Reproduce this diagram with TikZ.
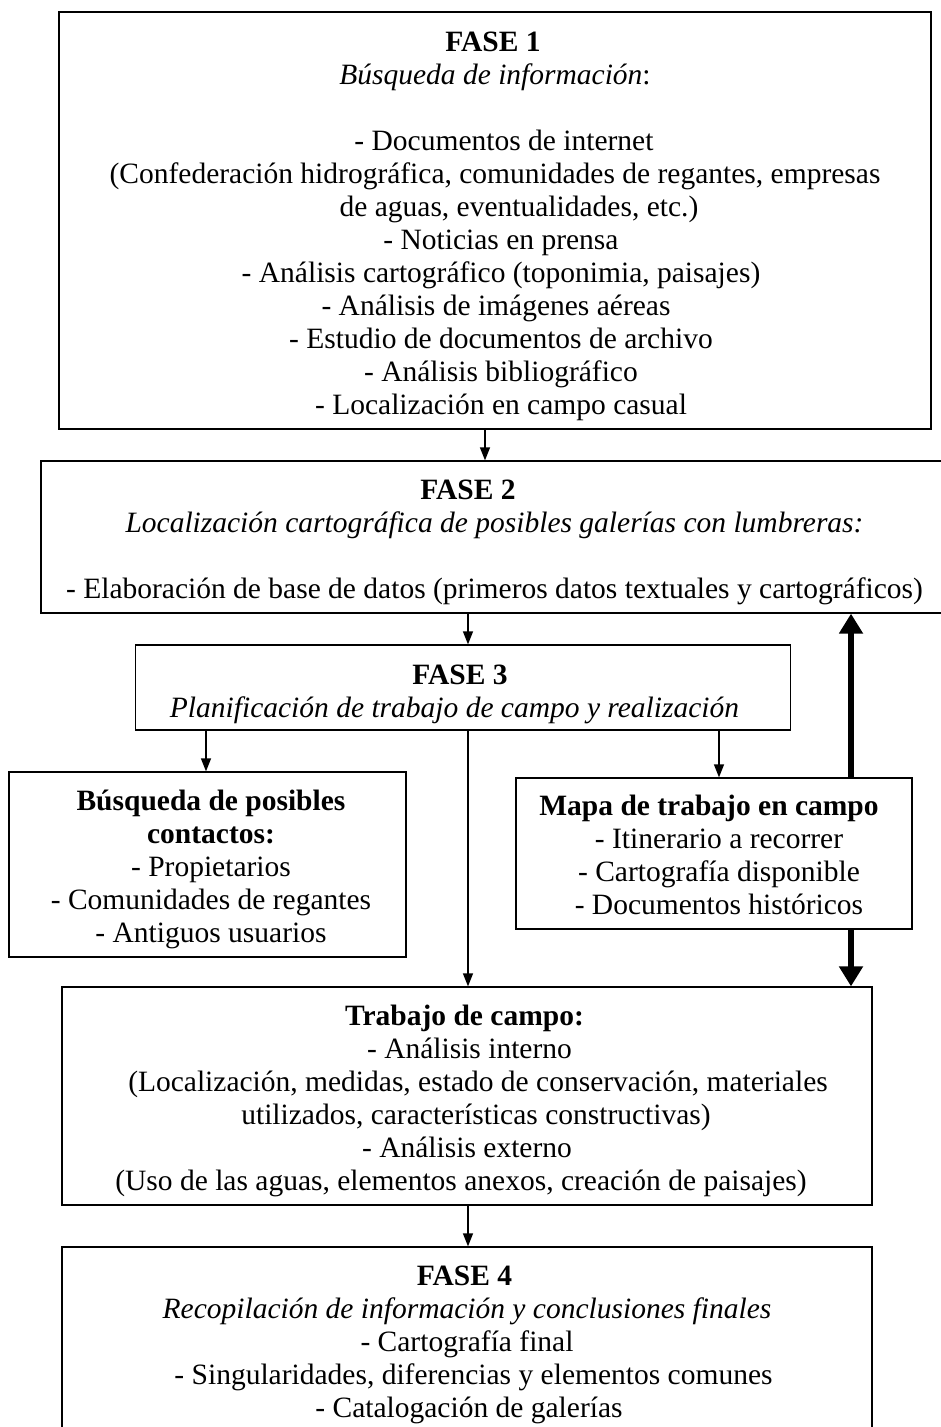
\documentclass[tikz,border=0pt]{standalone}
\usepackage{fontspec}
\setmainfont{Liberation Serif}
\usetikzlibrary{arrows.meta}
\newcommand\dgfont{\fontsize{29.5}{33}\selectfont}
\newcommand\hs[1]{\hspace*{#1pt}}
\newcommand\tpt[1]{\rule{0pt}{#1pt}}
\begin{document}
\begin{tikzpicture}[x=1pt,y=-1pt,
  box/.style={draw,line width=1.3pt,inner sep=0pt,align=center,font=\dgfont},
  smallarrow/.style={line width=1.3pt,-{Triangle[length=13pt,width=10pt]}},
  bigarrow/.style={line width=6.5pt,-{Triangle[length=20pt,width=23pt]}}]
\useasboundingbox (0,0) rectangle (940,1427);
\fill[white] (0,0) rectangle (940,1427);
% columns for connectors
\coordinate (c1) at (485,0);
\coordinate (c2) at (468,0);
\coordinate (c3) at (206,0);
\coordinate (c4) at (719,0);
\coordinate (c5) at (851,0);
% boxes
\node[box,minimum width=872pt,minimum height=417pt] (f1) at (495,220.5) {%
\tpt{32}\textbf{FASE 1}\hs{4}\\
\textit{Búsqueda de información}:\hs{7}\\[33pt]
\hs{18}- Documentos de internet\\
(Confederación hidrográfica, comunidades de regantes, empresas\\
\hs{48}de aguas, eventualidades, etc.)\\
\hs{12}- Noticias en prensa\\
\hs{12}- Análisis cartográfico (toponimia, paisajes)\\
\hs{2}- Análisis de imágenes aéreas\\
\hs{12}- Estudio de documentos de archivo\\
\hs{12}- Análisis bibliográfico\\
\hs{12}- Localización en campo casual};
\node[box,minimum width=907pt,minimum height=152pt] (f2) at (494.5,537) {%
\tpt{30}\textbf{FASE 2}\hs{53}\\
\textit{Localización cartográfica de posibles galerías con lumbreras:}\hs{29}\\[33pt]
- Elaboración de base de datos (primeros datos textuales y cartográficos)};
\node[box,minimum width=655pt,minimum height=85pt] (f3) at (463,687.5) {%
\tpt{34}\textbf{FASE 3}\hs{6}\\
\textit{Planificación de trabajo de campo y realización}\hs{17}};
\node[box,minimum width=397pt,minimum height=185pt] (bq) at (207.5,864.5) {%
\tpt{31}\hs{7}\textbf{Búsqueda de posibles}\\
\hs{7}\textbf{contactos:}\\
\hs{7}- Propietarios\\
\hs{7}- Comunidades de regantes\\
\hs{7}- Antiguos usuarios};
\node[box,minimum width=396pt,minimum height=151pt] (mapa) at (714,853.5) {%
\tpt{24}\textbf{Mapa de trabajo en campo}\hs{10}\\
\hs{10}- Itinerario a recorrer\\
\hs{10}- Cartografía disponible\\
\hs{10}- Documentos históricos};
\node[box,minimum width=810pt,minimum height=218pt] (trab) at (467,1096) {%
\tpt{30}\textbf{Trabajo de campo:}\hs{5}\\
\hs{5}- Análisis interno\\
\hs{22}(Localización, medidas, estado de conservación, materiales\\
\hs{18}utilizados, características constructivas)\\
- Análisis externo\hs{13}\\
(Uso de las aguas, elementos anexos, creación de paisajes)\hs{12}};
\node[box,minimum width=810pt,minimum height=190pt] (f4) at (467,1342) {%
\tpt{25}\textbf{FASE 4}\hs{5}\\
\textit{Recopilación de información y conclusiones finales}\hs{22}\\
- Cartografía final\\
\hs{13}- Singularidades, diferencias y elementos comunes\\
\hs{4}- Catalogación de galerías};
% connectors
\draw[smallarrow] (f1.south -| c1) -- (f2.north -| c1);
\draw[smallarrow] (f2.south -| c2) -- (f3.north -| c2);
\draw[smallarrow] (f3.south -| c3) -- (bq.north -| c3);
\draw[smallarrow] (f3.south -| c4) -- (mapa.north -| c4);
\draw[smallarrow] (f3.south -| c2) -- (trab.north -| c2);
\draw[smallarrow] (trab.south -| c2) -- (f4.north -| c2);
\draw[bigarrow] (mapa.north -| c5) -- (f2.south -| c5);
\draw[bigarrow] (mapa.south -| c5) -- (trab.north -| c5);
\end{tikzpicture}
\end{document}
